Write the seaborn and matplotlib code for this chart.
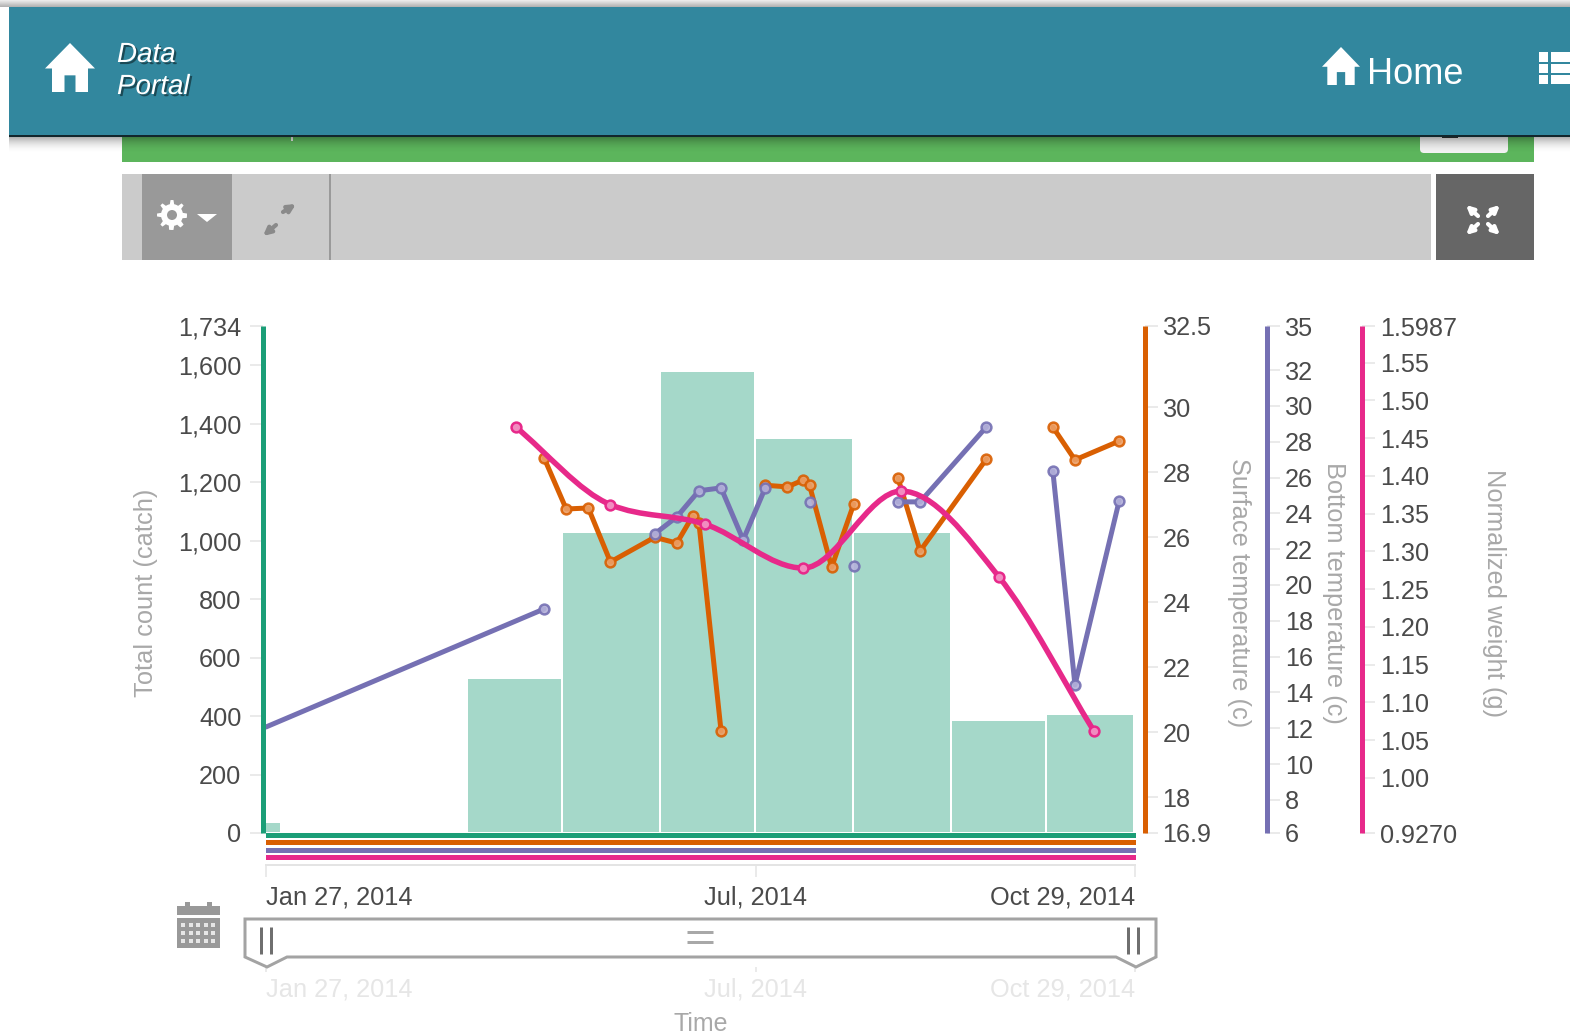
import numpy as np
import pandas as pd
import matplotlib
matplotlib.use("Agg")
import matplotlib.pyplot as plt
import matplotlib.dates as mdates
import matplotlib.patheffects as pe
from matplotlib.patches import Rectangle, Polygon, FancyBboxPatch, PathPatch, Circle
from matplotlib.path import Path
import seaborn as sns

# monthly catch bars
bin_edges = ["2014-01-27", "2014-02-01", "2014-03-01", "2014-04-01", "2014-05-01", "2014-06-01",
             "2014-07-01", "2014-08-01", "2014-09-01", "2014-10-01", "2014-10-29"]
catch_counts = [38, 0, 0, 530, 1030, 1580, 1351, 1029, 386, 407]

# weekly temperatures, nan = gap in the line
surface_dates = ["2014-04-25", "2014-05-02", "2014-05-09", "2014-05-16", "2014-05-30", "2014-06-06",
                 "2014-06-11", "2014-06-13", "2014-06-20", "2014-06-27", "2014-07-04", "2014-07-11",
                 "2014-07-16", "2014-07-18", "2014-07-25", "2014-08-01", "2014-08-08", "2014-08-15",
                 "2014-08-22", "2014-09-12", "2014-09-26", "2014-10-03", "2014-10-10", "2014-10-24"]
surface_temp = [28.44, 26.87, 26.9, 25.24, 26.0, 25.82, 26.65, 26.44, 20.04, np.nan, 27.6, 27.55,
                27.76, 27.6, 25.08, 27.02, np.nan, 27.82, 25.58, 28.41, np.nan, 29.39, 28.38, 28.96]

bottom_dates = ["2014-01-27", "2014-04-25", "2014-05-16", "2014-05-30", "2014-06-06", "2014-06-13",
                "2014-06-20", "2014-06-27", "2014-07-04", "2014-07-11", "2014-07-18", "2014-07-25",
                "2014-08-01", "2014-08-08", "2014-08-15", "2014-08-22", "2014-09-12", "2014-09-26",
                "2014-10-03", "2014-10-10", "2014-10-24"]
bottom_temp = [12.07, 18.66, np.nan, 22.85, 23.8, 25.26, 25.42, 22.52, 25.42, np.nan, 24.64, np.nan,
               21.07, np.nan, 24.64, 24.64, 28.83, np.nan, 26.37, 14.42, 24.7]

weight_dates = ["2014-04-16", "2014-05-16", "2014-06-15", "2014-07-16", "2014-08-16", "2014-09-16", "2014-10-16"]
weight_values = [1.465, 1.362, 1.336, 1.278, 1.380, 1.266, 1.062]

# axis ranges and ticks
count_range = (0, 1734)
count_ticks = [0, 200, 400, 600, 800, 1000, 1200, 1400, 1600, 1734]
surface_range = (16.9, 32.5)
surface_ticks = [16.9, 18, 20, 22, 24, 26, 28, 30, 32.5]
surface_labels = ["16.9", "18", "20", "22", "24", "26", "28", "30", "32.5"]
bottom_range = (6.15, 34.46)
bottom_ticks = [6.15, 8, 10, 12, 14, 16, 18, 20, 22, 24, 26, 28, 30, 32, 34.46]
bottom_labels = ["6", "8", "10", "12", "14", "16", "18", "20", "22", "24", "26", "28", "30", "32", "35"]
weight_range = (0.9270, 1.5987)
weight_ticks = [0.9270, 1.00, 1.05, 1.10, 1.15, 1.20, 1.25, 1.30, 1.35, 1.40, 1.45, 1.50, 1.55, 1.5987]
weight_labels = ["0.9270", "1.00", "1.05", "1.10", "1.15", "1.20", "1.25", "1.30", "1.35", "1.40",
                 "1.45", "1.50", "1.55", "1.5987"]
time_ticks = ["2014-01-27", "2014-07-01", "2014-10-29"]
time_labels = ["Jan 27, 2014", "Jul, 2014", "Oct 29, 2014"]

GREEN, ORANGE, PURPLE, PINK = "#1b9e77", "#d95f02", "#7570b3", "#e7298a"
W, H = 1570, 1033
PT = 0.72  # one pixel in points at dpi 100
TEXT = "#4a4a4a"
LABEL = "#a8a8a8"
TICK = "#e4e4e4"
AX_LEFT, AX_RIGHT = 266, 1135

sns.set_style("white")
plt.rcParams["font.family"] = ["Liberation Sans", "DejaVu Sans"]
plt.rcParams["font.size"] = 18


def num(dates):
    return mdates.date2num(pd.to_datetime(dates))


def style_axis(ax, side, color, outward_px, pad_px, ticks, labels, limits, name, label_x):
    ax.set_ylim(*limits)
    ax.set_yticks(ticks, labels)
    for s in ax.spines.values():
        s.set_visible(False)
    spine = ax.spines[side]
    spine.set_visible(True)
    spine.set_position(("outward", outward_px * PT))
    spine.set_color(color)
    spine.set_linewidth(5 * PT)
    spine.set_capstyle("butt")
    spine.set_zorder(5)
    ax.tick_params(axis="y", left=side == "left", right=side == "right", length=13 * PT,
                   width=1.5 * PT, color=TICK, labelcolor=TEXT, labelsize=18.2, pad=pad_px * PT)
    ax.yaxis.set_label_position(side)
    ax.set_ylabel(name, color=LABEL, fontsize=18.3, rotation=90 if side == "left" else 270, va="center")
    ax.yaxis.set_label_coords((label_x - AX_LEFT) / (AX_RIGHT - AX_LEFT), (833 - 593) / 507)


def draw_series(ax, dates, values, color, pale):
    df = pd.DataFrame({"date": num(dates), "value": values})
    df["segment"] = df["value"].isna().cumsum()
    df = df.dropna()
    sns.lineplot(data=df, x="date", y="value", units="segment", estimator=None, color=color,
                 linewidth=5 * PT, legend=False, ax=ax)
    points = df[df["date"] > num(time_ticks)[0]]
    sns.scatterplot(data=points, x="date", y="value", color=pale, edgecolor=color, s=50,
                    linewidth=2.5 * PT, alpha=0.9, legend=False, ax=ax, zorder=4)


def monotone_path(x, y):
    # cubic segments between the points, tangents as in d3 monotoneX, straight at both ends
    x, y = np.asarray(x, float), np.asarray(y, float)
    h = np.diff(x)
    s = np.diff(y) / h
    m = np.zeros(len(x))
    for i in range(1, len(x) - 1):
        if s[i - 1] * s[i] > 0:
            p = (s[i - 1] * h[i] + s[i] * h[i - 1]) / (h[i - 1] + h[i])
            m[i] = np.sign(s[i]) * min(abs(s[i - 1]), abs(s[i]), 0.5 * abs(p)) * 2
    m[0] = s[0]
    m[-1] = s[-1]
    verts, codes = [(x[0], y[0])], [Path.MOVETO]
    for i in range(len(h)):
        verts += [(x[i] + h[i] / 3, y[i] + m[i] * h[i] / 3),
                  (x[i + 1] - h[i] / 3, y[i + 1] - m[i + 1] * h[i] / 3),
                  (x[i + 1], y[i + 1])]
        codes += [Path.CURVE4] * 3
    return Path(verts, codes)


fig = plt.figure(figsize=(W / 100, H / 100), dpi=100)
ax = fig.add_axes([AX_LEFT / W, 1 - 833 / H, (AX_RIGHT - AX_LEFT) / W, 507 / H])
ax.patch.set_alpha(0)

# bars, the months start a few hours early in the source
edges = num(bin_edges) - 0.25
sns.histplot(x=edges[:-1], weights=catch_counts, bins=list(edges), color="#a5d8c9", alpha=1,
             edgecolor="white", linewidth=2 * PT, ax=ax)
style_axis(ax, "left", GREEN, 3.5, 8, count_ticks, [f"{t:,}" for t in count_ticks], count_range,
           "Total count (catch)", 146)
ax.set_xlim(num(time_ticks)[0], num(time_ticks)[-1])

# time axis under the chart
ax.spines["bottom"].set_visible(True)
ax.spines["bottom"].set_position(("outward", 32 * PT))
ax.spines["bottom"].set_color(TICK)
ax.spines["bottom"].set_linewidth(2 * PT)
ax.set_xticks(num(time_ticks), time_labels)
ax.tick_params(axis="x", bottom=True, length=12 * PT, width=1.5 * PT, color=TICK, labelcolor=TEXT,
               labelsize=18.3, pad=9 * PT)
ax.set_xlabel("")
xlabels = ax.get_xticklabels()
xlabels[0].set_ha("left")
xlabels[-1].set_ha("right")

# surface temperature
ax_surface = ax.twinx()
draw_series(ax_surface, surface_dates, surface_temp, ORANGE, "#ec9f66")
style_axis(ax_surface, "right", ORANGE, 9.5, 5, surface_ticks, surface_labels, surface_range,
           "Surface temperature (c)", 1239)

# bottom temperature
ax_bottom = ax.twinx()
draw_series(ax_bottom, bottom_dates, bottom_temp, PURPLE, "#b4b1da")
style_axis(ax_bottom, "right", PURPLE, 132, 5, bottom_ticks, bottom_labels, bottom_range,
           "Bottom temperature (c)", 1334)

# normalized weight, smooth line
ax_weight = ax.twinx()
wx = num(weight_dates)
ax_weight.add_patch(PathPatch(monotone_path(wx, weight_values), fill=False, edgecolor=PINK,
                              linewidth=5.5 * PT, zorder=3))
sns.scatterplot(x=wx, y=weight_values, color="#f18cc0", edgecolor=PINK, s=50, linewidth=2.5 * PT,
                legend=False, ax=ax_weight, zorder=4)
style_axis(ax_weight, "right", PINK, 227, 5, weight_ticks, weight_labels, weight_range,
           "Normalized weight (g)", 1494)
for a in (ax_surface, ax_bottom, ax_weight):
    a.set_xlim(ax.get_xlim())
    a.set_xlabel("")

# range slider labels
brush = fig.add_axes([AX_LEFT / W, 1 - 967 / H, (AX_RIGHT - AX_LEFT) / W, 49 / H])
brush.patch.set_alpha(0)
brush.set_xlim(ax.get_xlim())
brush.set_yticks([])
sns.despine(ax=brush, left=True, bottom=True)
brush.set_xticks(num(time_ticks), time_labels)
brush.tick_params(axis="x", bottom=True, length=5 * PT, width=1.5 * PT, color=TICK,
                  labelcolor="#e6e6e6", labelsize=18.3, pad=5 * PT)
bl = brush.get_xticklabels()
bl[0].set_ha("left")
bl[-1].set_ha("right")
brush.set_xlabel("Time", color=LABEL, fontsize=18, labelpad=8)

# page around the chart, drawn in pixel coordinates
ui = fig.add_axes([0, 0, 1, 1], zorder=20)
ui.set_xlim(0, W)
ui.set_ylim(H, 0)
ui.axis("off")


def box(x0, y0, x1, y1, color, alpha=1):
    ui.add_patch(Rectangle((x0, y0), x1 - x0, y1 - y0, facecolor=color, edgecolor="none", alpha=alpha))


def house(x, y, w, h):
    pts = [(0.5, 0), (1, 0.52), (0.86, 0.52), (0.86, 1), (0.61, 1), (0.61, 0.66), (0.39, 0.66),
           (0.39, 1), (0.14, 1), (0.14, 0.52), (0, 0.52)]
    ui.add_patch(Polygon([(x + px * w, y + py * h) for px, py in pts], facecolor="white", edgecolor="none"))


def arrow(x0, y0, x1, y1, color, size=12, lw=3):
    ui.annotate("", xy=(x1, y1), xytext=(x0, y0),
                arrowprops=dict(arrowstyle="-|>", color=color, lw=lw, mutation_scale=size,
                                shrinkA=0, shrinkB=0))


def gear(cx, cy, r_out, r_in, r_hole, bg):
    angles = np.arange(0, 2 * np.pi, np.pi / 32)
    teeth = np.where(np.cos(8 * angles) > 0, r_out, r_in)
    ui.add_patch(Polygon(np.column_stack([cx + teeth * np.cos(angles), cy + teeth * np.sin(angles)]),
                         facecolor="white", edgecolor="none"))
    ui.add_patch(Circle((cx, cy), r_hole, facecolor=bg, edgecolor="none"))


# colored domain lines below the plot
box(266, 833, 1136, 838, GREEN)
box(266, 840, 1136, 845, ORANGE)
box(266, 848, 1136, 853, PURPLE)
box(266, 855, 1136, 860, PINK)

# green strip
box(122, 136, 1534, 162, "#5cb55c")
ui.add_patch(FancyBboxPatch((1420, 130), 88, 23, boxstyle="round,pad=0,rounding_size=4",
                            facecolor="#f2f2f2", edgecolor="none"))
box(1442, 136, 1458, 138, "#333333")
box(291, 137, 293, 141, "#e8e8e8")

# header with shadow
for i in range(16):
    box(9, 137 + i, 1570, 138 + i, "#000000", alpha=0.3 * (1 - i / 16) ** 2)
for i in range(7):
    box(0, i, W, i + 1, "#999999", alpha=0.2 + 0.09 * i)
box(9, 7, W, 135, "#32879e")
box(9, 135, W, 137, "#12262c")
house(45, 43, 50, 49)
for txt, y in (("Data", 55), ("Portal", 87)):
    ui.text(117, y, txt, color="white", fontsize=20, style="italic", va="center", ha="left",
            path_effects=[pe.withSimplePatchShadow(offset=(1.5, -1.5), shadow_rgbFace="#000000", alpha=0.45)])
house(1322, 47, 38, 38)
ui.text(1367, 74, "Home", color="white", fontsize=26, va="center", ha="left")
for y0, y1 in ((52, 62), (64, 73), (75, 84)):
    box(1539, y0, 1548, y1, "white")
    box(1551, y0, W, y1, "white")

# toolbar
box(122, 174, 1431, 260, "#cbcbcb")
box(142, 174, 232, 260, "#999999")
box(329, 174, 331, 260, "#9a9a9a")
box(1436, 174, 1534, 260, "#666666")
gear(172, 215, 15, 11, 5, "#999999")
ui.add_patch(Polygon([(197, 214), (217, 214), (207, 222)], facecolor="white", edgecolor="none"))
arrow(283, 212, 296, 204, "#8a8a8a", size=11)
arrow(276, 225, 263, 236, "#8a8a8a", size=11)
for dx, dy in ((-1, -1), (1, -1), (-1, 1), (1, 1)):
    arrow(1483 + 5 * dx, 220 + 4 * dy, 1483 + 17 * dx, 220 + 15 * dy, "white", size=10)

# calendar icon
box(177, 906, 220, 915, "#999999")
box(185, 902, 190, 908, "#999999")
box(207, 902, 212, 908, "#999999")
box(177, 918, 220, 948, "#999999")
for row in range(3):
    for col in range(5):
        box(181 + col * 7.6, 923 + row * 8, 185 + col * 7.6, 927 + row * 8, "#e6e6e6")

# slider handle
ui.add_patch(Polygon([(245, 919), (1156, 919), (1156, 957), (1136, 967), (1116, 957), (287, 957),
                      (267, 967), (245, 957)], closed=True, facecolor="none", edgecolor="#a3a3a3",
                     linewidth=3 * PT))
for x in (261, 271, 1128, 1138):
    ui.plot([x, x], [927, 954], color="#6f6f6f", lw=3 * PT, solid_capstyle="butt")
for y in (932, 942):
    ui.plot([687, 713], [y, y], color="#a8a8a8", lw=3 * PT, solid_capstyle="butt")

fig.savefig("out.png", dpi=100)
